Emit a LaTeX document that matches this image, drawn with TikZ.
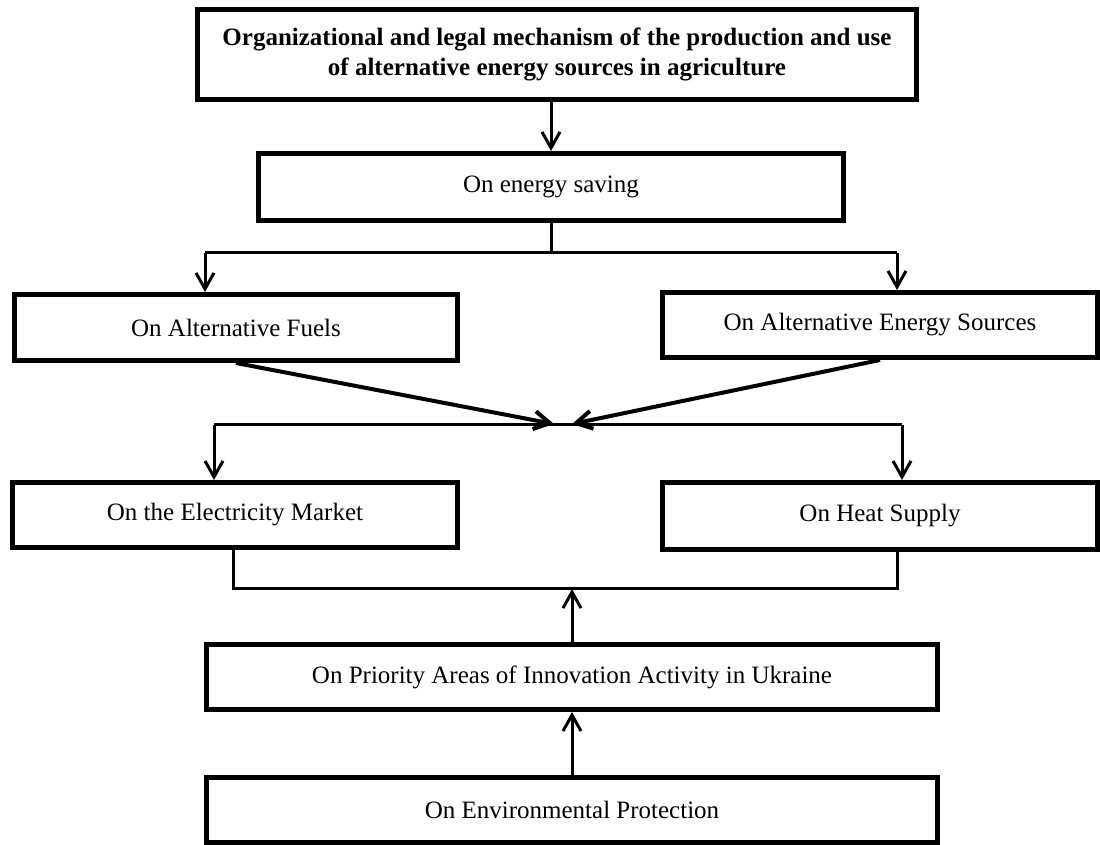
\documentclass[tikz,border=0pt]{standalone}
\usepackage{fontspec}
\setmainfont{Liberation Serif}
\usepackage{tikz}
\usetikzlibrary{arrows.meta}
\tikzset{law/.style={rectangle,draw,line width=2.5pt,inner sep=0pt,align=center,font=\fontsize{12.5}{15}\selectfont}}

\begin{document}
\begin{tikzpicture}[x=0.5pt,y=-0.5pt,>={Straight Barb[length=8pt,width=9pt]},line width=1.5pt]
    \useasboundingbox (0,0) rectangle (1100,845);

    \node[law,minimum width=359.5pt,minimum height=45pt] (title) at (557,54.5) {\bfseries Organizational and legal mechanism of the production and use\\ \bfseries of alternative energy sources in agriculture};
    \node[law,minimum width=292.5pt,minimum height=33.5pt] (save) at (551,187) {On energy saving};
    \node[law,minimum width=221.5pt,minimum height=33pt] (fuel) at (236,327.5) {On Alternative Fuels};
    \node[law,minimum width=217.5pt,minimum height=32.5pt] (src) at (880,325) {On Alternative Energy Sources};
    \node[law,minimum width=222.5pt,minimum height=32.5pt] (elec) at (235,515) {On the Electricity Market};
    \node[law,minimum width=217.5pt,minimum height=33.5pt] (heat) at (880,516) {On Heat Supply};
    \node[law,minimum width=365.5pt,minimum height=32.5pt] (prio) at (572,677) {On Priority Areas of Innovation Activity in Ukraine};
    \node[law,minimum width=365.5pt,minimum height=32.5pt] (env) at (572,810) {On Environmental Protection};

    \coordinate (sp) at (551,253);
    \coordinate (sl) at (205,253);
    \coordinate (sr) at (897,253);
    \coordinate (tl) at (554,424);
    \coordinate (tr) at (572,424);
    \coordinate (ml) at (214,425);
    \coordinate (mr) at (902,425);
    \coordinate (bl) at (233,589);
    \coordinate (br) at (897,589);

    \draw [->] (title.south -| save.north) to (save.north);
    \draw [] (save.south) to (sp);
    \draw [] (sl) to (sr);
    \draw [->] (sl) to (sl |- fuel.north);
    \draw [->] (sr) to (sr |- src.north);
    \draw [->,line width=2pt] (fuel.south) to (tl);
    \draw [->,line width=2pt] (src.south) to (tr);
    \draw [] (ml) to (mr);
    \draw [->] (ml) to (ml |- elec.north);
    \draw [->] (mr) to (mr |- heat.north);
    \draw [] (bl |- elec.south) -- (bl) -- (br) -- (br |- heat.south);
    \draw [->] (prio.north) to (prio.north |- bl);
    \draw [->] (env.north) to (prio.south);
\end{tikzpicture}
\end{document}
